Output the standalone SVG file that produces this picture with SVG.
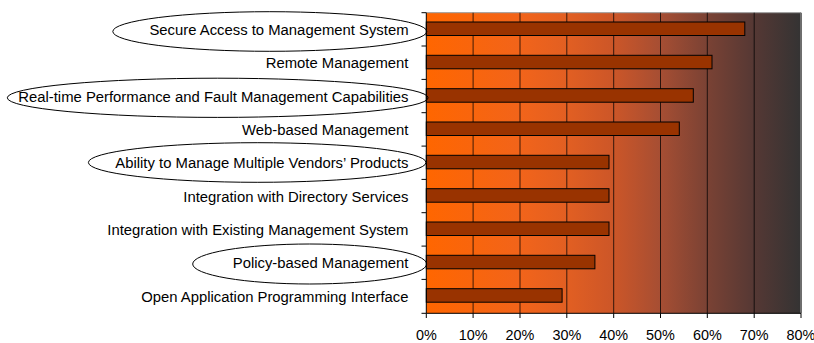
<svg xmlns="http://www.w3.org/2000/svg" width="814" height="343" viewBox="0 0 814 343">
  <defs>
    <linearGradient id="plotFill" x1="426" y1="0" x2="801" y2="0" gradientUnits="userSpaceOnUse">
      <stop offset="0" stop-color="#FF6600"/>
      <stop offset="0.25" stop-color="#F2641A"/>
      <stop offset="0.375" stop-color="#E25F22"/>
      <stop offset="0.5" stop-color="#CC5628"/>
      <stop offset="0.625" stop-color="#A64E33"/>
      <stop offset="0.75" stop-color="#7A4234"/>
      <stop offset="0.875" stop-color="#553834"/>
      <stop offset="1" stop-color="#343333"/>
    </linearGradient>
    <style>
      .lbl { font-family: "Liberation Sans", Arial, sans-serif; font-size: 14.85px; fill: #000; text-anchor: end; }
      .tick { font-family: "Liberation Sans", Arial, sans-serif; font-size: 14.4px; fill: #000; text-anchor: middle; }
      .bar { fill: #993300; stroke: #000; stroke-width: 1; }
      .grid { stroke: #000; stroke-opacity: 0.75; stroke-width: 1; }
      .axis { stroke: #000; stroke-width: 1; fill: none; }
      .ring { fill: none; stroke: #000; stroke-width: 1; }
    </style>
  </defs>
  <rect width="814" height="343" fill="#FFFFFF"/>

  <!-- plot area -->
  <g id="plot">
    <rect x="426.3" y="12.7" width="374.7" height="300.6" fill="url(#plotFill)"/>
    <line x1="426.3" y1="12.7" x2="801" y2="12.7" stroke="#9A9A9A" stroke-width="1"/>
    <line x1="801" y1="12.7" x2="801" y2="313.3" stroke="#6E6E6E" stroke-width="2"/>
  </g>

  <!-- vertical gridlines at 10% steps -->
  <g id="gridlines">
    <line class="grid" x1="473.1" y1="12.7" x2="473.1" y2="313.3"/>
    <line class="grid" x1="520" y1="12.7" x2="520" y2="313.3"/>
    <line class="grid" x1="566.8" y1="12.7" x2="566.8" y2="313.3"/>
    <line class="grid" x1="613.7" y1="12.7" x2="613.7" y2="313.3"/>
    <line class="grid" x1="660.5" y1="12.7" x2="660.5" y2="313.3"/>
    <line class="grid" x1="707.3" y1="12.7" x2="707.3" y2="313.3"/>
    <line class="grid" x1="754.2" y1="12.7" x2="754.2" y2="313.3"/>
  </g>

  <!-- bars: 0% at x=426.3, 46.84 px per 10% -->
  <g id="bars">
    <rect class="bar" x="426.3" y="22" width="318.5" height="13.5"/>
    <rect class="bar" x="426.3" y="55.3" width="285.7" height="13.5"/>
    <rect class="bar" x="426.3" y="88.7" width="267" height="13.5"/>
    <rect class="bar" x="426.3" y="122" width="253" height="13.5"/>
    <rect class="bar" x="426.3" y="155.3" width="182.7" height="13.5"/>
    <rect class="bar" x="426.3" y="188.7" width="182.7" height="13.5"/>
    <rect class="bar" x="426.3" y="222" width="182.7" height="13.5"/>
    <rect class="bar" x="426.3" y="255.3" width="168.6" height="13.5"/>
    <rect class="bar" x="426.3" y="288.7" width="135.8" height="13.5"/>
  </g>

  <!-- axes and tick marks -->
  <g id="axes">
    <path class="axis" d="M426.3 12.7 V313.3 H801"/>
    <path class="axis" d="M421.5 12.7 H426.3 M421.5 46 H426.3 M421.5 79.4 H426.3 M421.5 112.7 H426.3 M421.5 146.1 H426.3 M421.5 179.4 H426.3 M421.5 212.7 H426.3 M421.5 246.1 H426.3 M421.5 279.4 H426.3 M421.5 313.3 H426.3"/>
    <path class="axis" d="M426.3 313.3 V318 M473.1 313.3 V318 M520 313.3 V318 M566.8 313.3 V318 M613.7 313.3 V318 M660.5 313.3 V318 M707.3 313.3 V318 M754.2 313.3 V318 M801 313.3 V318"/>
  </g>

  <!-- category labels -->
  <g id="labels">
    <text class="lbl" x="408.5" y="35">Secure Access to Management System</text>
    <text class="lbl" x="408.5" y="68.3">Remote Management</text>
    <text class="lbl" x="408.5" y="101.6">Real-time Performance and Fault Management Capabilities</text>
    <text class="lbl" x="408.5" y="135">Web-based Management</text>
    <text class="lbl" x="408.5" y="168.3">Ability to Manage Multiple Vendors’ Products</text>
    <text class="lbl" x="408.5" y="201.6">Integration with Directory Services</text>
    <text class="lbl" x="408.5" y="235">Integration with Existing Management System</text>
    <text class="lbl" x="408.5" y="268.3">Policy-based Management</text>
    <text class="lbl" x="408.5" y="301.6">Open Application Programming Interface</text>
  </g>

  <!-- value axis labels -->
  <g id="ticks">
    <text class="tick" x="426.3" y="340">0%</text>
    <text class="tick" x="473.1" y="340">10%</text>
    <text class="tick" x="520" y="340">20%</text>
    <text class="tick" x="566.8" y="340">30%</text>
    <text class="tick" x="613.7" y="340">40%</text>
    <text class="tick" x="660.5" y="340">50%</text>
    <text class="tick" x="707.3" y="340">60%</text>
    <text class="tick" x="754.2" y="340">70%</text>
    <text class="tick" x="801" y="340">80%</text>
  </g>

  <!-- highlight rings around selected categories -->
  <g id="rings">
    <ellipse class="ring" cx="269.8" cy="31.5" rx="157" ry="19.8"/>
    <ellipse class="ring" cx="217.7" cy="97.8" rx="210.4" ry="19.6"/>
    <ellipse class="ring" cx="257.2" cy="162.5" rx="168.8" ry="19.8"/>
    <ellipse class="ring" cx="309.7" cy="264" rx="117" ry="20"/>
  </g>
</svg>
